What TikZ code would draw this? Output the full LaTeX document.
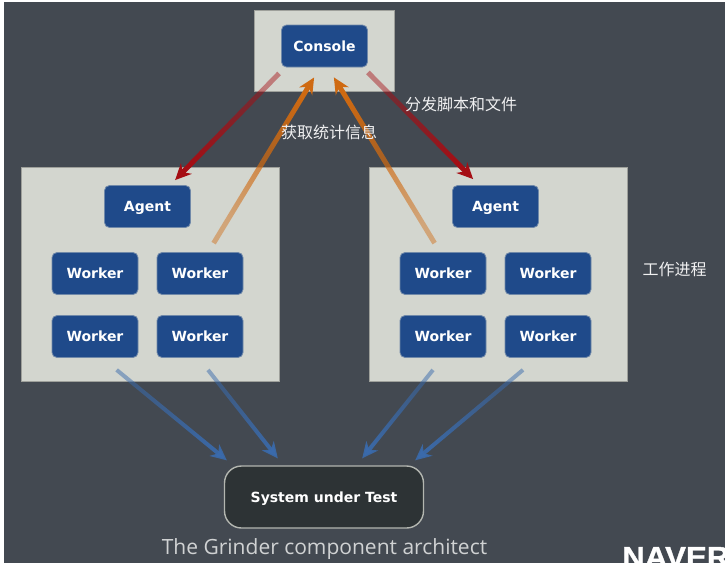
\documentclass[tikz,border=0pt]{standalone}
\usepackage{fontspec}
\setmainfont{DejaVu Sans}
\newfontfamily\capfont{Open Sans}
\newfontfamily\logofont[FakeStretch=1.08, FakeBold=1.2]{Liberation Sans Bold}
\newfontfamily\cjk{Noto Sans CJK SC}
\usetikzlibrary{arrows.meta, fadings}
\definecolor{B1}{HTML}{434951}
\definecolor{B2}{HTML}{D3D6CF}
\definecolor{B3}{HTML}{1F4A8A}
\definecolor{B4}{HTML}{2D3335}
\definecolor{A1}{HTML}{A50E14}
\definecolor{A2}{HTML}{CF6A12}
\definecolor{A3}{HTML}{3A6BAD}
\tikzfading[name=arrowfade, left color=transparent!55, right color=transparent!0]
\tikzfading[name=bluefade, left color=transparent!50, right color=transparent!10]

\begin{document}
\begin{tikzpicture}[
	x=1pt, y=-1pt,
	panel/.style = {fill=B2, draw=B2!75!black, line width=0.6pt, anchor=north west, inner sep=0pt},
	btn/.style = {rectangle, rounded corners=5pt, fill=B3, draw=B3!55!B2, line width=0.8pt, text=white, font=\fontsize{14}{15}\bfseries, text height=10pt, text depth=0pt, minimum width=86pt, minimum height=42pt, inner sep=0pt},
	label/.style = {text=white!92!B1, font=\fontsize{16}{18}\cjk, inner sep=0pt},
	fetch/.style = {line width=5pt, -{Stealth[length=16pt, width=15pt, inset=5pt]}},
	load/.style = {fetch, line width=4pt, A3, path fading=bluefade}
]
  % Background
  \useasboundingbox (0, 0) rectangle (725, 563);
  \fill[B1] (4, 2) rectangle (725, 563);

  % Panels
  \node[panel, minimum width=140pt, minimum height=81pt] at (254, 10) (pconsole) {};
  \node[panel, minimum width=258pt, minimum height=214pt] at (21, 167) (pleft) {};
  \node[panel, minimum width=258pt, minimum height=214pt] at (369, 167) (pright) {};

  % Define vertices
  \node[btn] at (324.5, 46) (console) {Console};
  \node[btn] at (147.5, 206.5) (agentl) {Agent};
  \node[btn] at (495.5, 206.5) (agentr) {Agent};
  \node[btn] at (95, 273.5) (workerla) {Worker};
  \node[btn] at (200, 273.5) (workerlb) {Worker};
  \node[btn] at (95, 336.5) (workerlc) {Worker};
  \node[btn] at (200, 336.5) (workerld) {Worker};
  \node[btn] at (443, 273.5) (workerra) {Worker};
  \node[btn] at (548, 273.5) (workerrb) {Worker};
  \node[btn] at (443, 336.5) (workerrc) {Worker};
  \node[btn] at (548, 336.5) (workerrd) {Worker};
  \node[rectangle, rounded corners=17pt, fill=B4, draw=B2!85!black, line width=1.4pt, text=white, font=\fontsize{14}{15}\bfseries, text height=10pt, text depth=0pt, minimum width=199pt, minimum height=62pt, inner sep=0pt] at (324, 497) (sut) {System under Test};

  % Edges
  \draw[fetch, A1, path fading=arrowfade, fading angle=225] ([shift={(-2, 6)}]console.south west) -- ([shift={(71, -5)}]agentl.north west);
  \draw[fetch, A1, path fading=arrowfade, fading angle=315] ([shift={(0, 5)}]console.south east) -- ([shift={(21, -6)}]agentr.north west);
  \draw[fetch, A2, path fading=arrowfade, fading angle=59] ([shift={(57, -9)}]workerlb.north west) -- ([shift={(33, 10)}]console.south west);
  \draw[fetch, A2, path fading=arrowfade, fading angle=121] ([shift={(35, -9)}]workerra.north west) -- ([shift={(-34, 10)}]console.south east);
  \draw[load, fading angle=320] ([shift={(65, 12)}]workerlc.south west) -- ([shift={(3, -5)}]sut.north west);
  \draw[load, fading angle=308] ([shift={(8, 12)}]workerld.south) -- ([shift={(54, -7)}]sut.north west);
  \draw[load, fading angle=232] ([shift={(-10, 12)}]workerrc.south) -- ([shift={(-62, -7)}]sut.north east);
  \draw[load, fading angle=220] ([shift={(-25, 12)}]workerrd.south) -- ([shift={(-9, -5)}]sut.north east);

  % Labels
  \node[label, anchor=west] at (405, 104.5) (scripts) {分发脚本和文件};
  \node[label, anchor=west] at (281, 132.5) (stats) {获取统计信息};
  \node[label, anchor=west] at (642.5, 269) (proc) {工作进程};
  \node[text=white!75!B1, font=\fontsize{21}{24}\capfont, inner sep=0pt] at (324.5, 549) (caption) {The Grinder component architect};
  \node[anchor=base west, text=white, font=\fontsize{29}{29}\logofont, inner sep=0pt] at (622, 567) (naver) {NAVER};
\end{tikzpicture}
\end{document}
